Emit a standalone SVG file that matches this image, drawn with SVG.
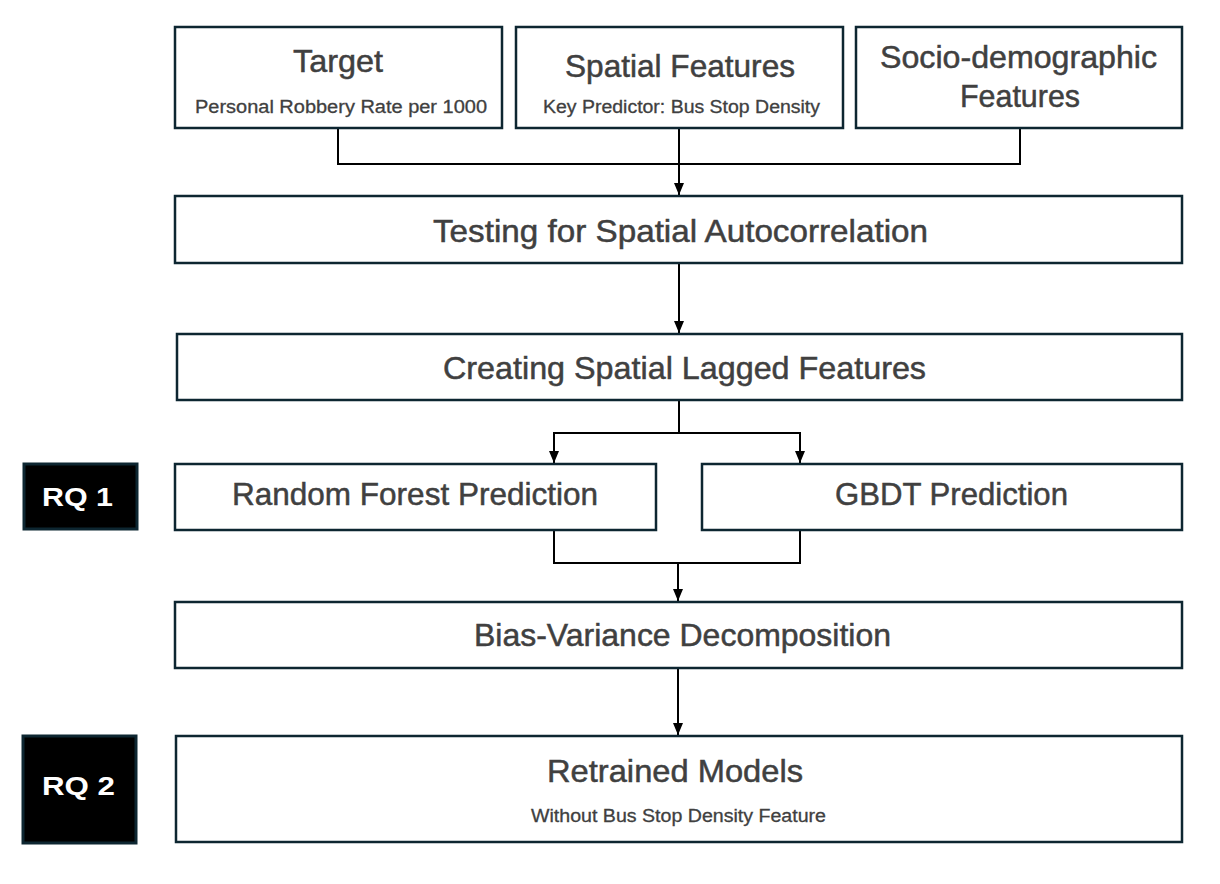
<svg xmlns="http://www.w3.org/2000/svg" width="1220" height="884" viewBox="0 0 1220 884">
<defs>
<style>
.box{fill:#fff;stroke:#0d2631;stroke-width:2.5}
.rq{fill:#000;stroke:#0d2631;stroke-width:3}
.t{font-family:"Liberation Sans",Arial,sans-serif;fill:#404040;stroke:#404040;stroke-width:0.5;text-anchor:middle}
.big{font-size:32px}
.small{font-size:18px;stroke-width:0.3}
.rqt{font-family:"Liberation Sans",Arial,sans-serif;fill:#fff;font-size:26px;font-weight:bold;text-anchor:middle}
.c{fill:none;stroke:#000;stroke-width:2}
</style>
<marker id="a" viewBox="0 0 12 10" refX="12" refY="5" markerWidth="12" markerHeight="10" markerUnits="userSpaceOnUse" orient="auto">
<path d="M0,0 L12,5 L0,10 Z" fill="#000"/>
</marker>
</defs>
<g id="connectors">
<polyline class="c" points="338,128 338,164 1020,164 1020,128"/>
<line class="c" x1="679" y1="128" x2="679" y2="195" marker-end="url(#a)"/>
<line class="c" x1="679" y1="263" x2="679" y2="333" marker-end="url(#a)"/>
<polyline class="c" points="679,400 679,433"/>
<polyline class="c" points="554,433 800,433"/>
<line class="c" x1="554" y1="432" x2="554" y2="463" marker-end="url(#a)"/>
<line class="c" x1="800" y1="432" x2="800" y2="463" marker-end="url(#a)"/>
<polyline class="c" points="554,530 554,563 800,563 800,530"/>
<line class="c" x1="678" y1="563" x2="678" y2="601" marker-end="url(#a)"/>
<line class="c" x1="678" y1="668" x2="678" y2="735" marker-end="url(#a)"/>
</g>
<g id="target">
<rect class="box" x="175" y="27" width="327" height="101"/>
<text class="t big" x="338" y="72" textLength="90" lengthAdjust="spacingAndGlyphs">Target</text>
<text class="t small" x="341" y="113" textLength="292" lengthAdjust="spacingAndGlyphs">Personal Robbery Rate per 1000</text>
</g>
<g id="spatial">
<rect class="box" x="516" y="27" width="327" height="101"/>
<text class="t big" x="680" y="77" textLength="230" lengthAdjust="spacingAndGlyphs">Spatial Features</text>
<text class="t small" x="681.5" y="113" textLength="277" lengthAdjust="spacingAndGlyphs">Key Predictor: Bus Stop Density</text>
</g>
<g id="socio">
<rect class="box" x="856" y="27" width="326" height="101"/>
<text class="t big" x="1018.5" y="68" textLength="277" lengthAdjust="spacingAndGlyphs">Socio-demographic</text>
<text class="t big" x="1020" y="107" textLength="120" lengthAdjust="spacingAndGlyphs">Features</text>
</g>
<g id="testing">
<rect class="box" x="175" y="196" width="1007" height="67"/>
<text class="t big" x="680.5" y="242" textLength="495" lengthAdjust="spacingAndGlyphs">Testing for Spatial Autocorrelation</text>
</g>
<g id="creating">
<rect class="box" x="177" y="334" width="1005" height="66"/>
<text class="t big" x="684.5" y="379" textLength="483" lengthAdjust="spacingAndGlyphs">Creating Spatial Lagged Features</text>
</g>
<g id="rq1">
<rect class="rq" x="24" y="464" width="113" height="65"/>
<text class="rqt" x="77.5" y="506" textLength="71" lengthAdjust="spacingAndGlyphs">RQ 1</text>
</g>
<g id="rf">
<rect class="box" x="175" y="464" width="481" height="66"/>
<text class="t big" x="415" y="505" textLength="366" lengthAdjust="spacingAndGlyphs">Random Forest Prediction</text>
</g>
<g id="gbdt">
<rect class="box" x="702" y="464" width="480" height="66"/>
<text class="t big" x="951.5" y="505" textLength="233" lengthAdjust="spacingAndGlyphs">GBDT Prediction</text>
</g>
<g id="bias">
<rect class="box" x="175" y="602" width="1007" height="66"/>
<text class="t big" x="682.5" y="646" textLength="417" lengthAdjust="spacingAndGlyphs">Bias-Variance Decomposition</text>
</g>
<g id="rq2">
<rect class="rq" x="23" y="736" width="113" height="107"/>
<text class="rqt" x="78.5" y="795" textLength="73" lengthAdjust="spacingAndGlyphs">RQ 2</text>
</g>
<g id="retrained">
<rect class="box" x="176" y="736" width="1006" height="106"/>
<text class="t big" x="675" y="782" textLength="256" lengthAdjust="spacingAndGlyphs">Retrained Models</text>
<text class="t small" x="678.5" y="822" textLength="295" lengthAdjust="spacingAndGlyphs">Without Bus Stop Density Feature</text>
</g>
</svg>
